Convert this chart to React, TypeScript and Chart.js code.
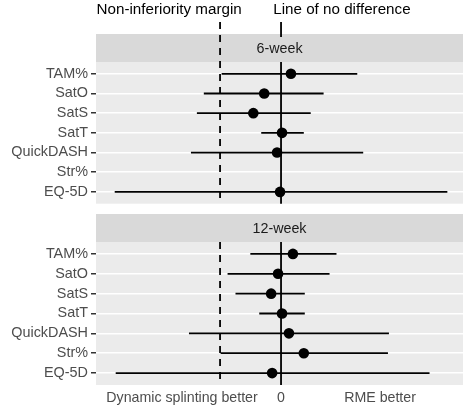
import React, { useEffect, useRef } from 'react';
import { Chart, registerables } from 'chart.js';

Chart.register(...registerables);

// ---------- data ----------
const categories = ['TAM%', 'SatO', 'SatS', 'SatT', 'QuickDASH', 'Str%', 'EQ-5D'];

const week6Est: (number | null)[] = [0.1, -0.17, -0.28, 0.01, -0.04, null, -0.01];
const week6Lo: (number | null)[] = [-0.6, -0.78, -0.85, -0.2, -0.91, null, -1.68];
const week6Hi: (number | null)[] = [0.77, 0.43, 0.3, 0.23, 0.83, null, 1.68];

const week12Est: (number | null)[] = [0.12, -0.03, -0.1, 0.01, 0.08, 0.23, -0.09];
const week12Lo: (number | null)[] = [-0.31, -0.54, -0.46, -0.22, -0.93, -0.61, -1.67];
const week12Hi: (number | null)[] = [0.56, 0.49, 0.24, 0.24, 1.09, 1.08, 1.5];

const nonInferiorityMargin = -0.616;
const noDifference = 0;

const xTickValues = [-1, 0, 1];
const xTickLabels = ['Dynamic splinting better', '0', 'RME better'];
const xMin = -1.869;
const xMax = 1.838;

const headerTexts = ['Non-inferiority margin', 'Line of no difference'];
const headerAnchors = [-1.13, 0.615];

// ---------- styling ----------
const FONT = '"Liberation Sans", Arial, Helvetica, sans-serif';
const STRIP_H = 28;
const AXIS_W = 96;
const RIGHT_PAD = 11;

type PanelProps = {
  title: string;
  est: (number | null)[];
  lo: (number | null)[];
  hi: (number | null)[];
  top: number;
  height: number;
  header: boolean;
  xAxis: boolean;
};

function makePlugin(title: string, header: boolean) {
  return {
    id: 'facet',
    beforeDraw(chart: any) {
      const { ctx, chartArea: a } = chart;
      ctx.save();
      ctx.fillStyle = '#ffffff';
      ctx.fillRect(0, 0, chart.width, chart.height);
      ctx.fillStyle = '#EBEBEB';
      ctx.fillRect(a.left, a.top, a.right - a.left, a.bottom - a.top);
      ctx.fillStyle = '#D9D9D9';
      ctx.fillRect(a.left, a.top - STRIP_H, a.right - a.left, STRIP_H);
      ctx.fillStyle = '#1A1A1A';
      ctx.font = `14.3px ${FONT}`;
      ctx.textAlign = 'center';
      ctx.textBaseline = 'middle';
      ctx.fillText(title, (a.left + a.right) / 2, a.top - STRIP_H / 2 + 1);
      if (header) {
        const xs = chart.scales.x;
        ctx.fillStyle = '#000000';
        ctx.font = `15.2px ${FONT}`;
        ctx.textBaseline = 'alphabetic';
        headerTexts.forEach((t, i) => {
          ctx.fillText(t, xs.getPixelForValue(headerAnchors[i]), 13.5);
        });
      }
      ctx.restore();
    },
    beforeDatasetsDraw(chart: any) {
      const { ctx, chartArea: a } = chart;
      const xs = chart.scales.x;
      const xm = xs.getPixelForValue(nonInferiorityMargin);
      const x0 = xs.getPixelForValue(noDifference);
      ctx.save();
      ctx.strokeStyle = '#000000';
      ctx.lineWidth = 1.8;
      ctx.setLineDash([7, 6]);
      ctx.beginPath();
      ctx.moveTo(xm, header ? 22 : a.top);
      ctx.lineTo(xm, a.bottom);
      ctx.stroke();
      ctx.setLineDash([]);
      ctx.beginPath();
      ctx.moveTo(x0, a.top);
      ctx.lineTo(x0, a.bottom);
      if (header) {
        ctx.moveTo(x0, 22);
        ctx.lineTo(x0, 37);
      }
      ctx.stroke();
      ctx.restore();
    },
  };
}

function Panel({ title, est, lo, hi, top, height, header, xAxis }: PanelProps) {
  const ref = useRef<HTMLCanvasElement>(null);
  useEffect(() => {
    if (!ref.current) return;
    const rows = categories.map((c, i) => ({ i, est: est[i], lo: lo[i], hi: hi[i] }));
    const pointSet: any = {
      label: 'estimate',
      data: rows.filter((r) => r.est != null).map((r) => ({ x: r.est, y: r.i })),
      backgroundColor: '#000000',
      borderColor: '#000000',
      borderWidth: 0,
      pointRadius: 5.3,
      showLine: false,
    };
    const lineSets: any[] = rows
      .filter((r) => r.lo != null && r.hi != null)
      .map((r) => ({
        label: categories[r.i],
        data: [
          { x: r.lo, y: r.i },
          { x: r.hi, y: r.i },
        ],
        showLine: true,
        borderColor: '#000000',
        borderWidth: 1.8,
        pointRadius: 0,
        fill: false,
      }));

    const chart = new Chart(ref.current, {
      type: 'scatter',
      data: { datasets: [pointSet, ...lineSets] },
      options: {
        animation: false,
        responsive: false,
        devicePixelRatio: 1,
        layout: {
          padding: {
            top: header ? 62 : 33,
            right: RIGHT_PAD,
            bottom: xAxis ? 0 : 5,
            left: 0,
          },
        },
        plugins: {
          legend: { display: false },
          tooltip: { enabled: false },
        },
        scales: {
          x: {
            type: 'linear',
            display: xAxis,
            min: xMin,
            max: xMax,
            afterBuildTicks: (s: any) => {
              s.ticks = xTickValues.map((v) => ({ value: v }));
            },
            afterFit: (s: any) => {
              s.height = xAxis ? 24 : 0;
              s.paddingLeft = 0;
              s.paddingRight = 0;
            },
            grid: { display: false, drawTicks: false },
            border: { display: false },
            ticks: {
              autoSkip: false,
              maxRotation: 0,
              padding: 5,
              color: '#4D4D4D',
              font: { family: FONT, size: 14.2 },
              callback: (v: any) => {
                const idx = xTickValues.indexOf(Number(v));
                return idx >= 0 ? xTickLabels[idx] : '';
              },
            },
          },
          y: {
            type: 'linear',
            reverse: true,
            min: -0.6,
            max: categories.length - 0.4,
            afterBuildTicks: (s: any) => {
              s.ticks = categories.map((_, i) => ({ value: i }));
            },
            afterFit: (s: any) => {
              s.width = AXIS_W;
              s.paddingTop = 0;
              s.paddingBottom = 0;
            },
            grid: {
              color: '#FFFFFF',
              lineWidth: 1.5,
              tickColor: '#333333',
              tickLength: 5,
              tickWidth: 1.5,
              drawOnChartArea: true,
            },
            border: { display: false },
            ticks: {
              autoSkip: false,
              padding: 3,
              color: '#4D4D4D',
              font: { family: FONT, size: 14.4 },
              callback: (v: any) => categories[Number(v)] ?? '',
            },
          },
        },
      },
      plugins: [makePlugin(title, header)],
    });
    return () => chart.destroy();
  }, [title, est, lo, hi, header, xAxis]);

  return (
    <canvas
      ref={ref}
      width={474}
      height={height}
      style={{ position: 'absolute', left: 0, top, display: 'block' }}
    />
  );
}

export default function App() {
  return (
    <div
      style={{
        position: 'absolute',
        left: 0,
        top: 0,
        width: 474,
        height: 409,
        background: '#ffffff',
        overflow: 'hidden',
      }}
    >
      <Panel title="6-week" est={week6Est} lo={week6Lo} hi={week6Hi} top={0} height={209} header={true} xAxis={false} />
      <Panel title="12-week" est={week12Est} lo={week12Lo} hi={week12Hi} top={209} height={200} header={false} xAxis={true} />
    </div>
  );
}
